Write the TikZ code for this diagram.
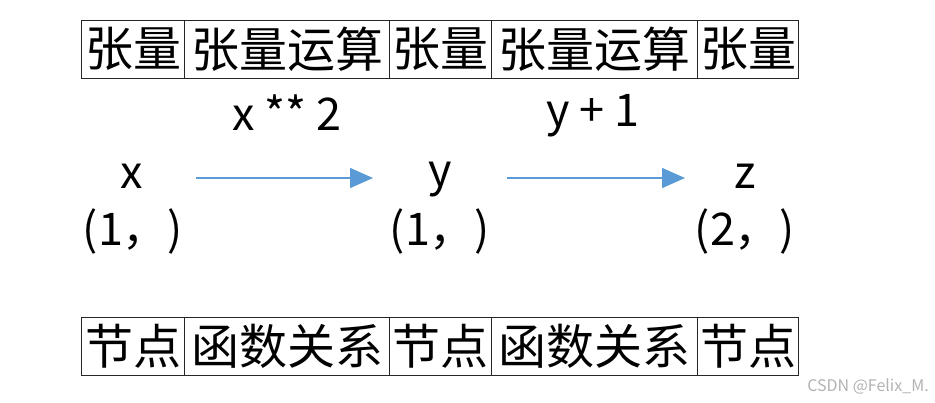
\documentclass[tikz,border=0pt]{standalone}
\usepackage{fontspec}
\setmainfont{Noto Sans CJK SC}
\usetikzlibrary{arrows.meta}
\definecolor{arrowblue}{HTML}{5B9BD5}
\begin{document}
\begin{tikzpicture}[x=1pt,y=-1pt,
  cell/.style={draw=black!85, line width=0.9pt, minimum height=58pt, inner sep=0pt, font=\fontsize{48}{52}\selectfont},
  lbl/.style={inner sep=0pt, font=\fontsize{45}{50}\selectfont},
  flow/.style={draw=arrowblue, line width=1.6pt, -{Triangle[length=23pt,width=20pt]}}]
\useasboundingbox (0,0) rectangle (935,403);
% top table
\node[cell, minimum width=103pt] (t1) at (133,49) {张量};
\node[cell, minimum width=205pt] (t2) at (287,49) {张量运算};
\node[cell, minimum width=102pt] (t3) at (440.5,49) {张量};
\node[cell, minimum width=206pt] (t4) at (594.5,49) {张量运算};
\node[cell, minimum width=101pt] (t5) at (748,49) {张量};
% bottom table
\node[cell, minimum width=103pt] (b1) at (133,346) {节点};
\node[cell, minimum width=205pt] (b2) at (287,346) {函数关系};
\node[cell, minimum width=102pt] (b3) at (440.5,346) {节点};
\node[cell, minimum width=206pt] (b4) at (594.5,346) {函数关系};
\node[cell, minimum width=101pt] (b5) at (748,346) {节点};
% operation labels
\node[lbl] (op1) at (287,113) {x ** 2};
\node[lbl] (op2) at (593,116) {y + 1};
% variables
\node[lbl] (x) at (132,176) {x};
\node[lbl] (y) at (440,180) {y};
\node[lbl] (z) at (745,176) {z};
\node[lbl] (sx) at (133,232) {(1，)};
\node[lbl] (sy) at (440,232) {(1，)};
\node[lbl] (sz) at (745,232) {(2，)};
% arrows
\coordinate (a1s) at (196,178);
\coordinate (a1e) at (373,178);
\coordinate (a2s) at (507,178);
\coordinate (a2e) at (685,178);
\draw[flow] (a1s) -- (a1e);
\draw[flow] (a2s) -- (a2e);
% watermark
\node[text=black!30, inner sep=0pt, font=\fontsize{16}{18}\selectfont] (wm) at (868,387) {CSDN @Felix\_M.};
\end{tikzpicture}
\end{document}
